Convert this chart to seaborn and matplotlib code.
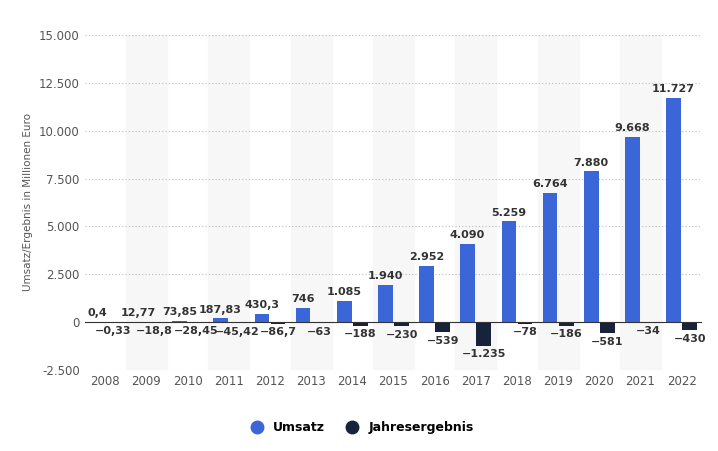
import matplotlib
matplotlib.use("Agg")
import matplotlib.pyplot as plt
import seaborn as sns
import pandas as pd

years = [str(y) for y in range(2008, 2023)]
umsatz = [0.4, 12.77, 73.85, 187.83, 430.3, 746, 1085, 1940, 2952, 4090, 5259, 6764, 7880, 9668, 11727]
ergebnis = [-0.33, -18.8, -28.45, -45.42, -86.7, -63, -188, -230, -539, -1235, -78, -186, -581, -34, -430]
umsatz_lbl = ["0,4", "12,77", "73,85", "187,83", "430,3", "746", "1.085", "1.940", "2.952", "4.090", "5.259", "6.764", "7.880", "9.668", "11.727"]
erg_lbl = ["−0,33", "−18,8", "−28,45", "−45,42", "−86,7", "−63", "−188", "−230", "−539", "−1.235", "−78", "−186", "−581", "−34", "−430"]
yticks = [-2500, 0, 2500, 5000, 7500, 10000, 12500, 15000]
ytick_lbl = ["-2.500", "0", "2.500", "5.000", "7.500", "10.000", "12.500", "15.000"]

df = pd.DataFrame({
    "Jahr": years * 2,
    "Wert": umsatz + ergebnis,
    "Serie": ["Umsatz"] * len(years) + ["Jahresergebnis"] * len(years),
})

fig = plt.figure(figsize=(7.18, 4.51), dpi=100)
ax = fig.add_axes([0.118, 0.18, 0.86, 0.742])
for i in range(len(years)):
    if i % 2 == 1:
        ax.axvspan(i - 0.5, i + 0.5, color="#f7f7f7", zorder=0)
sns.barplot(data=df, x="Jahr", y="Wert", hue="Serie", palette=["#3a66d8", "#17233a"],
            saturation=1, width=0.78, gap=0.08, ax=ax, zorder=3, legend=False)
ax.set_ylim(-2500, 15000)
ax.set_xlim(-0.5, len(years) - 0.5)
ax.set_yticks(yticks)
ax.set_yticklabels(ytick_lbl)
ax.yaxis.grid(True, linestyle=(0, (1, 2)), color="#bbbbbb", linewidth=0.8, zorder=1)
ax.set_axisbelow(True)
ax.axhline(0, color="#333333", linewidth=0.8, zorder=4)
for s in ax.spines.values():
    s.set_visible(False)
ax.tick_params(length=0, labelsize=8.5, colors="#555555")
ax.set_xlabel("")
ax.set_ylabel("Umsatz/Ergebnis in Millionen Euro", fontsize=7.5, color="#555555")
off = 0.2
for i in range(len(years)):
    ax.text(i - off, max(umsatz[i], 0) + 200, umsatz_lbl[i], ha="center", va="bottom",
            fontsize=8, fontweight="bold", color="#333333")
    ax.text(i + off, ergebnis[i] - 200, erg_lbl[i], ha="center", va="top",
            fontsize=8, fontweight="bold", color="#333333")
from matplotlib.lines import Line2D
h = [Line2D([], [], marker="o", ls="", color="#3a66d8", markersize=9),
     Line2D([], [], marker="o", ls="", color="#17233a", markersize=9)]
fig.legend(h, ["Umsatz", "Jahresergebnis"], loc="center", bbox_to_anchor=(0.5, 0.052), ncol=2,
           frameon=False, prop={"weight": "bold", "size": 9}, handletextpad=0.3, columnspacing=1.2)
fig.savefig("out.png", dpi=100)
